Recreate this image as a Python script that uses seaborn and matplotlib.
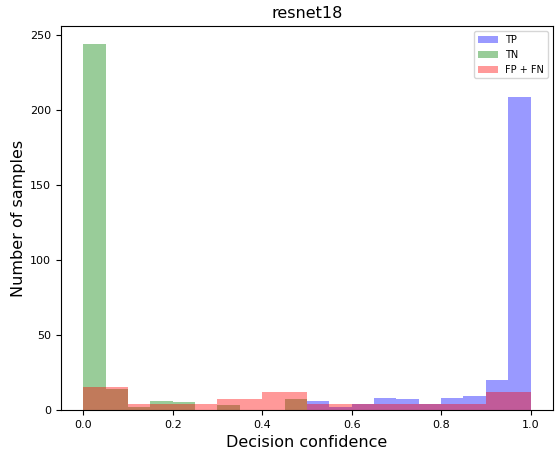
import numpy as np
import pandas as pd
import matplotlib
matplotlib.use("Agg")
import matplotlib.pyplot as plt
import seaborn as sns

# 20 bins of width 0.05 on [0, 1]
bin_width = 0.05
bin_centers = np.arange(20) * bin_width + bin_width / 2

tp_counts = [0, 0, 0, 0, 0, 0, 0, 0, 0, 0,
             6, 2, 4, 8, 7, 4, 8, 9, 20, 209]
tn_counts = [244, 14, 2, 6, 5, 0, 3, 0, 0, 7,
             0, 0, 0, 0, 0, 0, 0, 0, 0, 0]
fpfn_counts = [15, 15, 4, 4, 4, 4, 7, 7, 12, 12,
               4, 4, 4, 4, 4, 4, 4, 4, 12, 12]

series = [("TP", tp_counts, "blue"),
          ("TN", tn_counts, "green"),
          ("FP + FN", fpfn_counts, "red")]

fig, ax = plt.subplots(figsize=(5.58, 4.49), dpi=100)
fig.subplots_adjust(left=0.109, right=0.991, bottom=0.087, top=0.942)

for label, counts, color in series:
    df = pd.DataFrame({"conf": bin_centers, "n": np.asarray(counts, float)})
    sns.histplot(data=df, x="conf", weights="n", binwidth=bin_width,
                 binrange=(0, 1), ax=ax,
                 color=color, alpha=0.4, linewidth=0,
                 label=label, stat="count")

ax.set_title("resnet18", fontsize=11.5)
ax.set_xlabel("Decision confidence", fontsize=11.5)
ax.set_ylabel("Number of samples", fontsize=11.5, labelpad=3)
ax.tick_params(labelsize=8)
ax.set_xlim(-0.05, 1.05)
ax.set_ylim(0, 256.2)
ax.legend(loc="upper right", fontsize=7)
fig.savefig("out.png", dpi=100, facecolor="white")
